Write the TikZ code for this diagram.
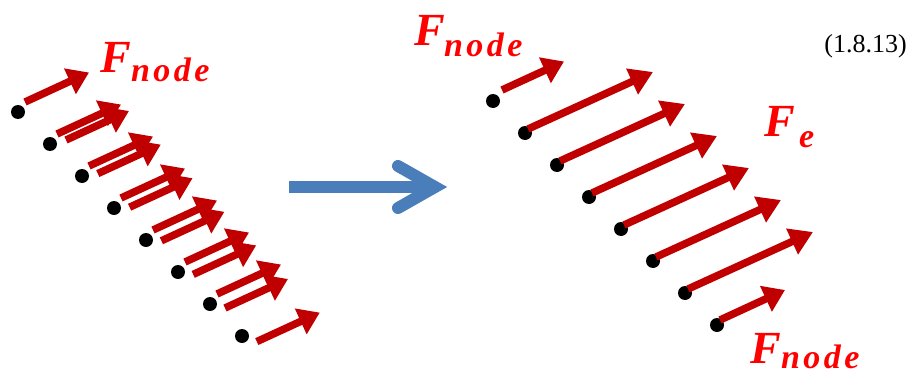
\documentclass[tikz,border=0pt]{standalone}
\usepackage{fontspec}
\setmainfont{Liberation Serif}
\usetikzlibrary{arrows.meta}
\definecolor{arrowred}{HTML}{C00000}
\definecolor{labelred}{HTML}{FF0000}
\definecolor{bigblue}{HTML}{4A7EBB}
\begin{document}
\begin{tikzpicture}[x=1pt,y=-1pt,
  force/.style={draw=arrowred, line width=7.5pt, -{Triangle[length=21pt,width=27pt]}},
  longforce/.style={draw=arrowred, line width=7.5pt, -{Triangle[length=23pt,width=27pt]}},
  nodedot/.style={circle, fill=black, inner sep=0pt, minimum size=14pt},
  bigF/.style={text=labelred, inner sep=0pt, anchor=base west, font=\fontsize{46}{46}\selectfont\bfseries\itshape},
  subF/.style={text=labelred, inner sep=0pt, anchor=base west, font=\fontsize{34}{34}\selectfont\bfseries\itshape\addfontfeatures{LetterSpace=10}},
  eqnum/.style={inner sep=0pt, anchor=base east, font=\fontsize{26}{26}\selectfont},
  bluearrow/.style={draw=bigblue, line width=12pt}
]
\useasboundingbox (0,0) rectangle (914,375);

% left: dots
\foreach \k in {1,...,8}
  \node[nodedot] (L\k) at ({18+32*(\k-1)},{112+32*(\k-1)}) {};
% left: upper arrows
\foreach \k in {1,...,7}
  \draw[force] ([shift={(7,-10)}]L\k.center) -- ++(64,-29.5);
% left: lower arrows
\foreach \k in {2,...,8}
  \draw[force] ([shift={({16-0.2*(\k-2)},{-4+1.6*(\k-2)})}]L\k.center) -- ++(63,-29);

% right: dots
\foreach \k in {1,...,8}
  \node[nodedot] (R\k) at ({493+32*(\k-1)},{101+32*(\k-1)}) {};
\draw[force] ([shift={(9,-11)}]R1.center) -- ++(62,-28.5);
\foreach \k in {2,...,7}
  \draw[longforce] ([shift={(3,-4)}]R\k.center) -- ++(125,-57);
\draw[force] ([shift={(3,-5)}]R8.center) -- ++(65,-30);

% big blue arrow
\coordinate (B0) at (289,187);
\coordinate (B1) at (432,187);
\coordinate (Bu) at (398,166);
\coordinate (Bt) at (435,187);
\coordinate (Bd) at (398,208);
\draw[bluearrow] (B0) -- (B1);
\draw[bluearrow, line cap=round, line join=miter] (Bu) -- (Bt) -- (Bd);

% labels
\node[bigF] (fa) at (100,72) {F};
\node[subF] (fas) at (131,81) {node};
\node[bigF] (fb) at (414,45) {F};
\node[subF] (fbs) at (444,56) {node};
\node[bigF] (fc) at (764,136) {F};
\node[subF] (fcs) at (799,147) {e};
\node[bigF] (fd) at (750,363) {F};
\node[subF] (fds) at (781,368) {node};
\node[eqnum] (eq) at (907,52) {(1.8.13)};
\end{tikzpicture}
\end{document}
